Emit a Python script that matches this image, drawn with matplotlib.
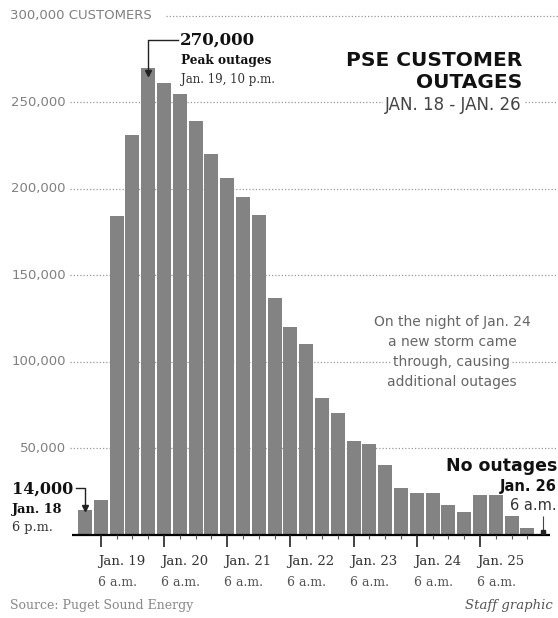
import matplotlib
matplotlib.use("Agg")
import matplotlib.pyplot as plt

# outages every 6 hours, Jan. 18 6 p.m. -> Jan. 25 late
outages = [14000, 20000, 184000, 231000, 270000, 261000, 255000, 239000,
           220000, 206000, 195000, 185000, 137000, 120000, 110000, 79000,
           70500, 54000, 52500, 40000, 27000, 24000, 24000, 17000,
           13000, 23000, 23000, 10500, 4000]
grid_vals = [250000, 200000, 150000, 100000, 50000]
grid_labels = ["250,000", "200,000", "150,000", "100,000", "50,000"]
day_ticks = [1, 5, 9, 13, 17, 21, 25]
day_labels = ["Jan. 19", "Jan. 20", "Jan. 21", "Jan. 22", "Jan. 23", "Jan. 24", "Jan. 25"]
note = ["On the night of Jan. 24", "a new storm came", "through, causing", "additional outages"]

W, H = 558, 618
X0, STEP = 85, 15.8          # pixel of bar 0, pixels per bar
Y0, YPX = 534.5, 300000 / 518.5   # baseline pixel, customers per pixel


def xd(px):
    return (px - X0) / STEP


def yd(py):
    return (Y0 - py) * YPX


fig = plt.figure(figsize=(W / 100, H / 100), dpi=100)
ax = fig.add_axes([0, 0, 1, 1])
ax.set_xlim(xd(0), xd(W))
ax.set_ylim(yd(H), yd(0))
ax.axis("off")

sans = "DejaVu Sans"
serif = "DejaVu Serif"
gray = "#808080"

# gridlines + labels
dot = (0, (1, 1.6))
ax.hlines(300000, xd(166), xd(W), colors="#999999", lw=0.9, linestyles=dot, zorder=1)
ax.text(xd(10), 300000, "300,000 CUSTOMERS", ha="left", va="center",
        fontsize=9.5, color=gray, family=sans)
for v, lab in zip(grid_vals, grid_labels):
    ax.hlines(v, xd(70), xd(W), colors="#999999", lw=0.9, linestyles=dot, zorder=1)
    ax.text(xd(66), v, lab, ha="right", va="center", fontsize=9.5, color=gray,
            family=sans)

# bars
idx = list(range(len(outages)))
ax.bar(idx, outages, width=0.88, color="#838383", zorder=2)

# axis line and ticks
ax.hlines(0, xd(72), xd(550), colors="black", lw=1.6, zorder=3)
for i in range(1, 29):
    if i in day_ticks:
        ax.vlines(i, 0, -7000, colors="#222222", lw=1.2, zorder=3)
    else:
        ax.vlines(i, 0, -2600, colors="#555555", lw=0.8, zorder=3)
for t, lab in zip(day_ticks, day_labels):
    ax.text(t - 0.2, yd(562), lab, ha="left", va="center", fontsize=9.5,
            color="#333333", family=serif)
    ax.text(t - 0.2, yd(582), "6 a.m.", ha="left", va="center", fontsize=9,
            color="#555555", family=serif)

# peak callout
peak = outages.index(max(outages))
ax.plot([peak, peak, xd(178)], [max(outages) - 3000, yd(40), yd(40)],
        color="#222222", lw=1, zorder=4)
ax.plot(peak, max(outages) - 3000, marker="v", ms=4, color="#222222", zorder=4)
ax.text(xd(180), yd(40), "270,000", ha="left", va="center", fontsize=12,
        fontweight="bold", family=serif, color="#111111")
ax.text(xd(181), yd(60), "Peak outages", ha="left", va="center", fontsize=8.7,
        fontweight="bold", family=serif, color="#111111")
ax.text(xd(181), yd(79), "Jan. 19, 10 p.m.", ha="left", va="center", fontsize=8.5,
        family=serif, color="#333333")

# title
ax.text(xd(522), yd(60), "PSE CUSTOMER", ha="right", va="center", fontsize=14.5,
        fontweight="bold", family=sans, color="#111111")
ax.text(xd(522), yd(82), "OUTAGES", ha="right", va="center", fontsize=14.5,
        fontweight="bold", family=sans, color="#111111")
ax.text(xd(522), yd(105), "JAN. 18 - JAN. 26", ha="right", va="center", fontsize=12,
        family=sans, color="#444444",
        bbox=dict(fc="white", ec="none", pad=1.5), zorder=5)

# storm note
for k, line in enumerate(note):
    ax.text(xd(452), yd(322 + 20 * k), line, ha="center", va="center", fontsize=10,
            family=sans, color="#666666",
            bbox=dict(fc="white", ec="none", pad=0.8), zorder=5)

# first value callout
ax.plot([xd(76), 0, 0], [yd(488), yd(488), outages[0] + 1500], color="#222222", lw=1, zorder=4)
ax.plot(0, outages[0] + 1500, marker="v", ms=4, color="#222222", zorder=4)
ax.text(xd(12), yd(489), "14,000", ha="left", va="center", fontsize=11.5,
        fontweight="bold", family=serif, color="#111111")
ax.text(xd(12), yd(510), "Jan. 18", ha="left", va="center", fontsize=9.3,
        fontweight="bold", family=serif, color="#111111")
ax.text(xd(12), yd(528), "6 p.m.", ha="left", va="center", fontsize=9.3,
        family=serif, color="#333333")

# no outages callout
end = len(outages)
ax.vlines(end, 1200, yd(516), colors="#444444", lw=0.8, zorder=4)
ax.plot(end, 1500, marker="s", ms=2.5, color="#222222", zorder=4)
ax.text(xd(557), yd(466), "No outages", ha="right", va="center", fontsize=12.5,
        fontweight="bold", family=sans, color="#111111")
ax.text(xd(557), yd(487), "Jan. 26", ha="right", va="center", fontsize=10.5,
        fontweight="bold", family=sans, color="#111111")
ax.text(xd(557), yd(505), "6 a.m.", ha="right", va="center", fontsize=10.5,
        family=sans, color="#333333")

# footer
ax.text(xd(10), yd(605), "Source: Puget Sound Energy", ha="left", va="center",
        fontsize=9, family=serif, color="#888888")
ax.text(xd(553), yd(606), "Staff graphic", ha="right", va="center", fontsize=9.5,
        family=serif, style="italic", color="#555555")

fig.savefig("out.png", dpi=100)
